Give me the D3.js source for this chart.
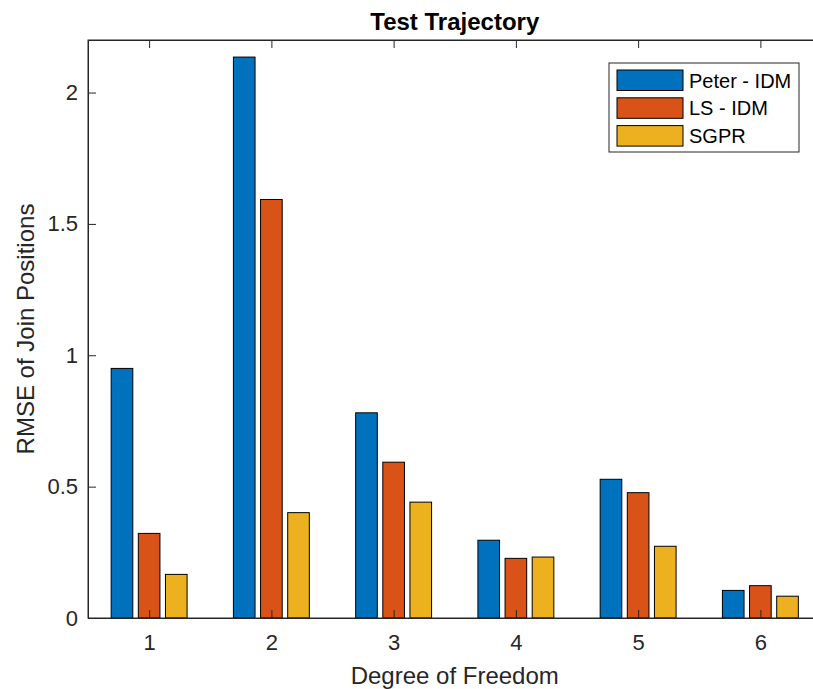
<!DOCTYPE html>
<html>
<head>
<meta charset="utf-8">
<script src="https://cdn.jsdelivr.net/npm/d3@7"></script>
<style>
  body { margin: 0; background: #fff; }
  svg { display: block; font-family: "Liberation Sans", Arial, sans-serif; }
</style>
</head>
<body>
<div class="barchart"></div>
<script>
// values
var dof = [1, 2, 3, 4, 5, 6];
var seriesNames = ["Peter - IDM", "LS - IDM", "SGPR"];
var peterIdm = [0.950, 2.135, 0.781, 0.296, 0.528, 0.105];
var lsIdm    = [0.322, 1.593, 0.593, 0.227, 0.477, 0.123];
var sgpr     = [0.166, 0.401, 0.441, 0.232, 0.273, 0.083];
var yTicks = [0, 0.5, 1, 1.5, 2];
var colors = ["#0072BD", "#D95319", "#EDB120"];

var series = [peterIdm, lsIdm, sgpr];

var width = 813, height = 689;
var margin = {top: 40, left: 88, bottom: 618, right: 821.5};
var ink = "#262626";

function barchart() {
  var svg = d3.select(".barchart").append("svg")
    .attr("width", width)
    .attr("height", height);

  // set the ranges
  var x = d3.scaleLinear().domain([0.5, 6.5]).range([margin.left, margin.right]);
  var y = d3.scaleLinear().domain([0, 2.2]).range([margin.bottom, margin.top]);

  var step = 0.222, barW = 0.177;

  // bars
  series.forEach(function(vals, i) {
    svg.append("g").selectAll("rect")
      .data(vals)
      .enter().append("rect")
      .attr("x", function(d, j) { return x(dof[j] + (i - 1) * step - barW / 2); })
      .attr("width", x(barW) - x(0))
      .attr("y", function(d) { return y(d); })
      .attr("height", function(d) { return y(0) - y(d); })
      .attr("fill", colors[i])
      .attr("stroke", "#000")
      .attr("stroke-width", 1);
  });

  // box
  svg.append("rect")
    .attr("x", margin.left).attr("y", margin.top)
    .attr("width", margin.right - margin.left)
    .attr("height", margin.bottom - margin.top)
    .attr("fill", "none").attr("stroke", ink).attr("stroke-width", 1);

  // axes, ticks pointing in
  var gx = svg.append("g")
    .attr("transform", "translate(0," + margin.bottom + ")")
    .call(d3.axisBottom(x).tickValues(dof).tickSizeInner(-8).tickSizeOuter(0).tickPadding(16)
      .tickFormat(d3.format("d")));
  var gxTop = svg.append("g")
    .attr("transform", "translate(0," + margin.top + ")")
    .call(d3.axisTop(x).tickValues(dof).tickSizeInner(-8).tickSizeOuter(0).tickFormat(""));
  var gy = svg.append("g")
    .attr("transform", "translate(" + margin.left + ",0)")
    .call(d3.axisLeft(y).tickValues(yTicks).tickSizeInner(-8).tickSizeOuter(0).tickPadding(10)
      .tickFormat(d3.format("")));

  [gx, gxTop, gy].forEach(function(g) {
    g.select(".domain").attr("stroke", ink);
    g.selectAll(".tick line").attr("stroke", ink);
    g.selectAll(".tick text").attr("fill", ink).style("font-size", "22px").style("font-family", null);
  });
  gx.selectAll(".tick text").attr("dy", "0.71em");

  // title and labels
  svg.append("text")
    .attr("x", (margin.left + margin.right) / 2).attr("y", 30)
    .attr("text-anchor", "middle")
    .attr("fill", "#000")
    .style("font-size", "24px").style("font-weight", "bold")
    .text("Test Trajectory");

  svg.append("text")
    .attr("x", (margin.left + margin.right) / 2).attr("y", 684)
    .attr("text-anchor", "middle")
    .attr("fill", ink)
    .style("font-size", "24px")
    .text("Degree of Freedom");

  svg.append("text")
    .attr("transform", "translate(33.5," + (margin.top + margin.bottom) / 2 + ") rotate(-90)")
    .attr("text-anchor", "middle")
    .attr("fill", ink)
    .style("font-size", "24px")
    .text("RMSE of Join Positions");

  // legend
  var lg = svg.append("g").attr("transform", "translate(609,63)");
  lg.append("rect")
    .attr("width", 190).attr("height", 89)
    .attr("fill", "#fff").attr("stroke", ink).attr("stroke-width", 1);
  seriesNames.forEach(function(name, i) {
    lg.append("rect")
      .attr("x", 8).attr("y", 7 + i * 27.8)
      .attr("width", 66).attr("height", 20.5)
      .attr("fill", colors[i]).attr("stroke", "#000").attr("stroke-width", 1);
    lg.append("text")
      .attr("x", 80).attr("y", 17.5 + i * 27.8)
      .attr("dy", "0.35em")
      .attr("fill", "#000")
      .style("font-size", "20px")
      .text(name);
  });
}

barchart();
</script>
</body>
</html>
